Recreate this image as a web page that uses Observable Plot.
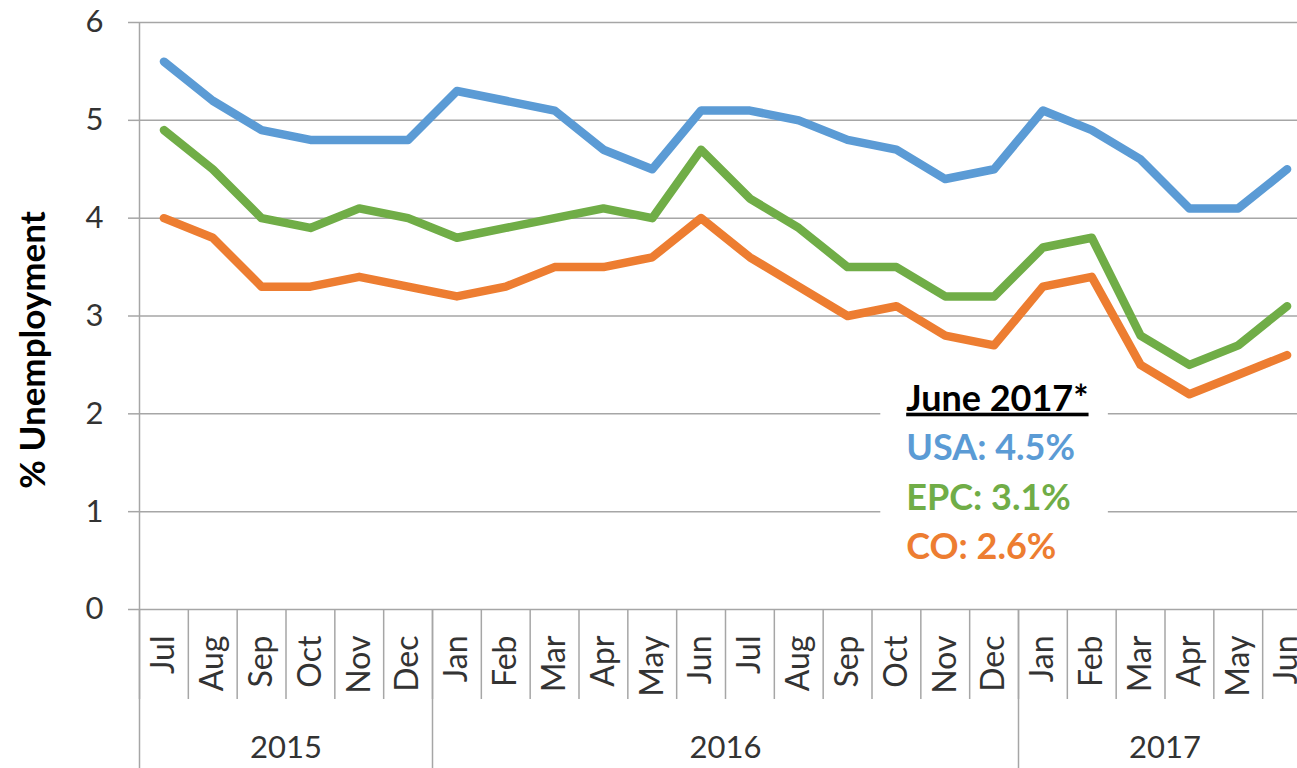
<!DOCTYPE html>
<html><head><meta charset="utf-8">
<script src="https://cdn.jsdelivr.net/npm/d3@7"></script>
<script src="https://cdn.jsdelivr.net/npm/@observablehq/plot@0.6"></script>
<style>html,body{margin:0;padding:0;overflow:hidden;background:#fff;} svg{max-width:none !important;}</style>
</head><body><div id="chart"></div>
<script>
const months = ["Jul","Aug","Sep","Oct","Nov","Dec","Jan","Feb","Mar","Apr","May","Jun","Jul","Aug","Sep","Oct","Nov","Dec","Jan","Feb","Mar","Apr","May","Jun"];
const years = [2015,2015,2015,2015,2015,2015,2016,2016,2016,2016,2016,2016,2016,2016,2016,2016,2016,2016,2017,2017,2017,2017,2017,2017];
const usa = [5.6,5.2,4.9,4.8,4.8,4.8,5.3,5.2,5.1,4.7,4.5,5.1,5.1,5.0,4.8,4.7,4.4,4.5,5.1,4.9,4.6,4.1,4.1,4.5];
const epc = [4.9,4.5,4.0,3.9,4.1,4.0,3.8,3.9,4.0,4.1,4.0,4.7,4.2,3.9,3.5,3.5,3.2,3.2,3.7,3.8,2.8,2.5,2.7,3.1];
const co  = [4.0,3.8,3.3,3.3,3.4,3.3,3.2,3.3,3.5,3.5,3.6,4.0,3.6,3.3,3.0,3.1,2.8,2.7,3.3,3.4,2.5,2.2,2.4,2.6];
const seriesNames = ["USA","EPC","CO"];
const seriesColors = ["#5B9BD5","#70AD47","#ED7D31"];
const yTicks = [0,1,2,3,4,5,6];
const yTitle = "% Unemployment";
const annLabels = ["June 2017*","USA: 4.5%","EPC: 3.1%","CO: 2.6%"];
const annColors = ["#000000","#5B9BD5","#70AD47","#ED7D31"];

// annotation placement (x in month index units, y in % units)
const annX = 15.2, annTop = 2.15, annStep = 0.505;
const annBox = [{x1: 14.68, x2: 19.34, y1: 0.45, y2: 2.3}];

const rows = [];
[usa, epc, co].forEach((vals, s) => vals.forEach((v, i) => rows.push({i, v, series: seriesNames[s]})));
const n = months.length;
const boundaries = d3.range(n + 1).map(k => k - 0.5);
const yearBounds = boundaries.filter(b => b === -0.5 || b === n - 0.5 || years[b - 0.5] !== years[b + 0.5]);
const yearGroups = d3.groups(months.map((m, i) => ({i, y: years[i]})), d => d.y)
  .map(([y, arr]) => ({year: String(y), center: (arr[0].i + arr[arr.length - 1].i) / 2}));
const annRows = annLabels.map((t, k) => ({label: t, y: annTop - k * annStep, color: annColors[k]}));

const grid = "#a6a6a6";
const chart = Plot.plot({
  width: 1311, height: 768,
  marginLeft: 139, marginRight: 0, marginTop: 22, marginBottom: 159,
  style: {fontFamily: "Lato, 'Open Sans', sans-serif", fontSize: "31px", color: "#333", background: "#fff", maxWidth: "none"},
  x: {domain: [-0.5, n - 0.5], axis: null},
  y: {domain: [0, 6], axis: null},
  color: {domain: seriesNames, range: seriesColors},
  marks: [
    Plot.gridY(yTicks, {stroke: grid, strokeOpacity: 1, strokeWidth: 1.5}),
    Plot.axisY(yTicks, {tickSize: 11, tickPadding: 25, stroke: grid, strokeOpacity: 1, strokeWidth: 1.5, fill: "#333", fontSize: 31, tickFormat: d => String(d)}),
    Plot.ruleX([-0.5], {stroke: grid, strokeWidth: 1.5}),
    Plot.axisX(boundaries, {tickSize: 90, stroke: grid, strokeOpacity: 1, strokeWidth: 1.5, tickFormat: () => ""}),
    Plot.axisX(yearBounds, {tickSize: 159, stroke: grid, strokeOpacity: 1, strokeWidth: 1.5, tickFormat: () => ""}),
    Plot.axisX(d3.range(n), {tickSize: 0, tickRotate: -90, tickPadding: 26, fill: "#333", fontSize: 32, tickFormat: i => months[i]}),
    Plot.text(yearGroups, {x: "center", text: "year", frameAnchor: "bottom", dy: 148, fill: "#333", fontSize: 31}),
    Plot.text([yTitle], {frameAnchor: "left", dx: -106, dy: 34, rotate: -90, textAnchor: "middle", fontWeight: "bold", fontSize: 35, fill: "#000"}),
    Plot.rect(annBox, {x1: "x1", x2: "x2", y1: "y1", y2: "y2", fill: "#fff"}),
    Plot.line(rows, {x: "i", y: "v", stroke: "series", strokeWidth: 8.5, strokeLinecap: "round", strokeLinejoin: "round"}),
    Plot.text(annRows, {x: annX, y: "y", text: "label", fill: "color", textAnchor: "start", fontWeight: "bold", fontSize: 36})
  ]
});
chart.style.maxWidth = "none";
document.getElementById("chart").appendChild(chart);
d3.select(chart).selectAll("text").filter(function() { return this.textContent === annLabels[0]; })
  .style("text-decoration", "underline");
</script>
</body></html>
